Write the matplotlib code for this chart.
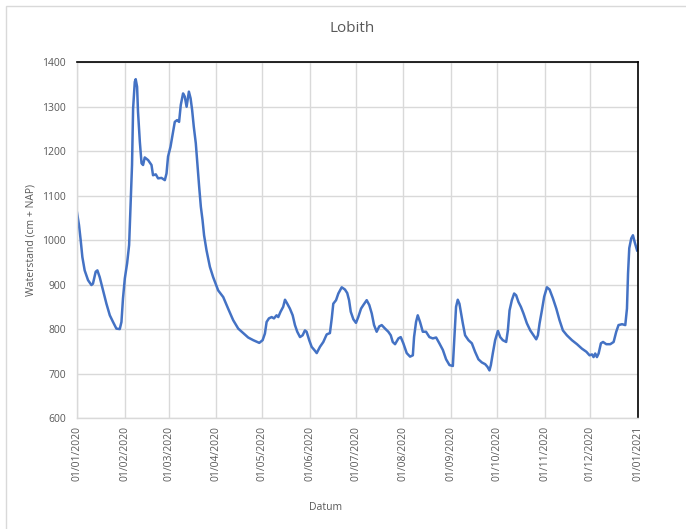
import datetime as dt
import matplotlib
matplotlib.use("Agg")
import matplotlib.pyplot as plt
import matplotlib.dates as mdates
from matplotlib.patches import Rectangle

# Day offsets from 01/01/2020 and water level (cm + NAP)
day_offset = [0, 1.3, 2.4, 3.5, 5.0, 7.2, 9.4, 10.4, 12.2, 13.3, 14.8, 17.0, 19.2, 21.4, 23.5, 25.7,
              27.9, 29.0, 30.0, 31.2, 32.7, 34.0, 34.9, 35.9, 36.6, 37.7, 38.3, 39.2, 39.8, 41.0,
              42.1, 43.1, 44.2, 46.4, 48.6, 49.6, 51.4, 52.9, 55.1, 57.3, 58.4, 59.4, 61.0, 62.3,
              63.8, 65.3, 66.6, 67.7, 69.2, 70.3, 71.5, 73.0, 74.1, 75.1, 76.2, 77.5, 78.6, 79.7,
              80.8, 81.9, 82.9, 84.5, 86.7, 88.8, 92.1, 95.4, 98.6, 101.9, 105.2, 108.4, 111.7,
              115.0, 118.9, 121.1, 122.6, 123.7, 125.2,
              127.0, 128.5, 130.2, 131.3, 132.8, 134.5, 135.7, 137.2, 138.9, 140.7, 142.2, 143.7,
              145.5, 147.2, 148.7, 149.8, 151.5, 153.1, 155.3, 156.4, 158.5, 160.7, 162.9, 165.0,
              166.2, 167.2, 169.0, 170.5, 172.7, 174.8, 176.3, 177.5, 178.6, 180.3, 182.0, 183.5,
              185.3, 186.8, 189.0, 190.7, 192.3, 193.8, 195.5, 197.2, 198.8, 201.0, 203.1, 204.7,
              206.0, 207.5, 209.7, 211.2, 212.9, 215.1, 217.3, 219.1, 219.9, 221.2, 222.3, 223.8,
              225.6, 227.7, 229.9, 232.1, 234.3, 236.4, 238.7, 240.8, 243.0, 245.2, 246.2, 247.3,
              248.4, 249.5, 250.6, 251.7, 253.2, 255.4, 257.6, 259.7, 261.9, 264.1, 266.3, 267.8,
              269.1, 270.0, 271.3, 272.8, 274.6, 276.1, 277.8, 280.0, 281.1, 282.2, 283.7, 285.2,
              286.5, 288.0, 289.6, 291.3, 293.5, 295.7, 297.8, 299.6, 300.7, 301.8, 303.3, 304.8,
              306.6, 308.3, 310.5, 312.7, 314.8, 317.0, 319.6, 322.9, 326.2, 329.4, 332.3, 334.4,
              336.0, 337.0, 338.1, 339.2, 340.3, 341.8, 343.2, 345.3, 347.9, 350.1, 351.8, 353.3,
              355.6, 357.7, 358.8, 359.5, 360.3, 361.6, 362.7, 363.8, 365.4]
waterstand = [1062, 1034, 1000, 962, 932, 910, 899, 902, 929, 932, 917, 887, 857, 831, 816, 801,
              800, 816, 869, 914, 948, 989, 1075, 1169, 1296, 1356, 1362, 1345, 1289, 1221,
              1173, 1169, 1186, 1180, 1169, 1146, 1148, 1139, 1140, 1135, 1150, 1188, 1210, 1236,
              1266, 1270, 1266, 1304, 1330, 1323, 1300, 1334, 1319, 1293, 1255, 1218, 1169, 1120,
              1075, 1045, 1011, 977, 940, 917, 887, 872, 846, 820, 801, 791, 781,
              775, 769, 775, 790, 816, 824,
              827, 824, 831, 827, 839, 850, 866, 857, 846, 831, 809, 794,
              782, 786, 797, 794, 775, 760, 751, 746, 760, 771, 788, 791,
              824, 857, 865, 880, 894, 889, 881, 865, 839, 822, 814, 827,
              846, 854, 865, 854, 835, 809, 794, 806, 809, 801, 794, 786,
              771, 766, 779, 782, 768, 746, 738, 741, 782, 816, 831, 816,
              794, 794, 782, 779, 781, 768, 753, 732, 719, 717, 782, 850,
              866, 857, 835, 813, 786, 775, 768, 749, 732, 725, 721, 715,
              707, 719, 746, 775, 796, 782, 775, 771, 797, 842, 865, 880,
              876, 861, 850, 835, 813, 797, 786, 777, 786, 813, 842, 873,
              894, 889, 869, 846, 820, 797, 786, 775, 766, 756, 749, 741,
              743, 737, 745, 737, 745, 768, 771, 766, 766, 771, 794, 809,
              811, 809, 846, 925, 982, 1004, 1011, 996, 977]

start = dt.datetime(2020, 1, 1)
dates = [start + dt.timedelta(days=d) for d in day_offset]
month_ticks = [dt.datetime(2020, m, 1) for m in range(1, 13)] + [dt.datetime(2021, 1, 1)]
y_ticks = [600, 700, 800, 900, 1000, 1100, 1200, 1300, 1400]

plt.rcParams['font.family'] = ['Open Sans', 'DejaVu Sans']
grey_text = '#595959'
grid_c = '#d9d9d9'

fig = plt.figure(figsize=(6.86, 5.29), dpi=100)
ax = fig.add_axes([77/686, 1-418/529, (638-77)/686, (418-62.3)/529])

ax.plot(dates, waterstand, color='#4472C4', linewidth=1.8, solid_joinstyle='round')

ax.set_xlim(month_ticks[0], month_ticks[-1])
ax.set_ylim(600, 1400)
ax.set_xticks(month_ticks)
ax.xaxis.set_major_formatter(mdates.DateFormatter('%d/%m/%Y'))
ax.set_yticks(y_ticks)
ax.grid(True, color=grid_c, linewidth=1)
ax.set_axisbelow(True)
ax.tick_params(axis='x', rotation=90, length=0, labelsize=7.5, colors=grey_text, pad=6)
ax.tick_params(axis='y', length=0, labelsize=7.5, colors=grey_text, pad=8)

for s in ['left', 'bottom']:
    ax.spines[s].set_color(grid_c)
    ax.spines[s].set_linewidth(1)
for s in ['top', 'right']:
    ax.spines[s].set_color('#000000')
    ax.spines[s].set_linewidth(1.2)

fig.text(352/686, 1-28/529, 'Lobith', ha='center', va='center', fontsize=11, color=grey_text)
fig.text(31/686, 1-240/529, 'Waterstand (cm + NAP)', ha='center', va='center',
         rotation=90, fontsize=7.5, color=grey_text)
fig.text(326/686, 1-508/529, 'Datum', ha='center', va='center', fontsize=7.5, color=grey_text)

fig.patches.append(Rectangle((6/686, -0.1), 1.2, 1.1 - 6/529 + 0.0, transform=fig.transFigure,
                             fill=False, edgecolor=grid_c, linewidth=1))

fig.savefig('out.png', dpi=100)
